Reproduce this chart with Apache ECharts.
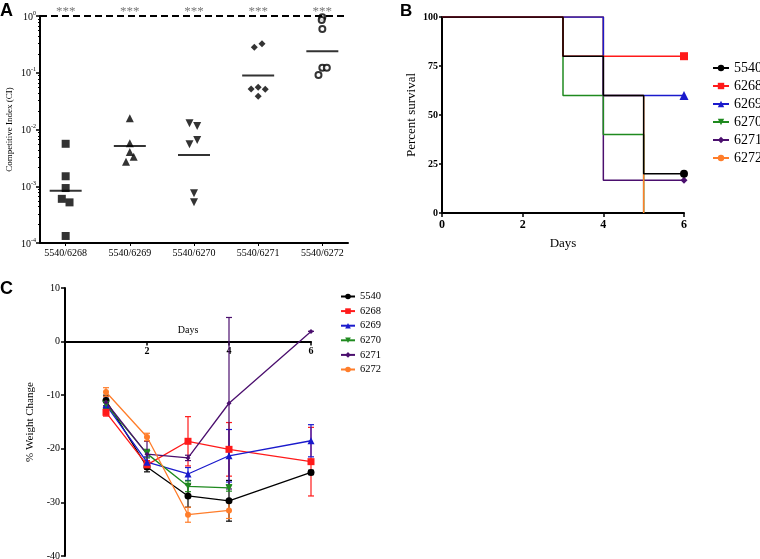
<!DOCTYPE html>
<html><head><meta charset="utf-8">
<script src="https://cdn.jsdelivr.net/npm/echarts@6/dist/echarts.min.js"></script>
<style>html,body{margin:0;padding:0;background:#fff}#c{width:760px;height:559px}</style>
</head><body><div id="c"></div>
<script>
// ---------- Panel A: competitive index (log scale) ----------
const ciCategories = ['5540/6268', '5540/6269', '5540/6270', '5540/6271', '5540/6272'];
const ci6268 = [5.6e-3, 1.5e-3, 9.3e-4, 6.0e-4, 5.2e-4, 1.33e-4];
const ci6269 = [1.58e-2, 5.7e-3, 4.0e-3, 3.3e-3, 2.7e-3];
const ci6270 = [1.29e-2, 1.15e-2, 6.5e-3, 5.5e-3, 7.5e-4, 5.2e-4];
const ci6271 = [0.325, 0.28, 0.0553, 0.0518, 0.051, 0.0385];
const ci6272 = [0.95, 0.85, 0.59, 0.123, 0.123, 0.091];
const jit6268 = [0, 0, 0, -0.06, 0.06, 0];
const jit6269 = [0, 0, 0, 0.06, -0.06];
const jit6270 = [-0.07, 0.05, 0.05, -0.07, 0, 0];
const jit6271 = [0.06, -0.06, 0, -0.11, 0.11, 0];
const jit6272 = [0, -0.01, 0, 0, 0.07, -0.06];
const ciMeans = [8.3e-4, 5.1e-3, 3.55e-3, 0.089, 0.24];
const ciSignif = ['***', '***', '***', '***', '***'];

// ---------- Panel B: survival ----------
const survDays = [0, 1, 2, 3, 4, 5, 6];
const groups = ['5540', '6268', '6269', '6270', '6271', '6272'];
const surv5540 = [100, 100, 100, 80, 60, 20, 20];
const surv6268 = [100, 100, 100, 80, 80, 80, 80];
const surv6269 = [100, 100, 100, 100, 60, 60, 60];
const surv6270 = [100, 100, 100, 60, 40, 0];
const surv6271 = [100, 100, 100, 100, 16.67, 16.67, 16.67];
const surv6272 = [100, 100, 100, 100, 60, 0];

// ---------- Panel C: weight change ----------
const wDays = [1, 2, 3, 4, 6];
const w5540 = [-11.0, -23.4, -28.8, -29.7, -24.4];
const e5540 = [1.0, 0.9, 2.1, 3.8, 0.4];
const w6268 = [-13.2, -23.0, -18.6, -20.1, -22.4];
const e6268 = [0.7, 0.8, 4.6, 5.0, 6.4];
const w6269 = [-11.8, -22.5, -24.7, -21.3, -18.5];
const e6269 = [0.8, 1.0, 1.2, 4.9, 3.0];
const w6270 = [-11.7, -20.9, -27.0, -27.3, null];
const e6270 = [0.8, 0.8, 1.0, 0.6, null];
const w6271 = [-11.3, -21.0, -21.7, -11.5, 1.9];
const e6271 = [1.0, 2.4, 0.5, 16.0, 0];
const w6272 = [-9.4, -17.8, -32.3, -31.5, null];
const e6272 = [0.8, 0.7, 1.4, 1.5, null];

const SERIF = 'Liberation Serif';
const colors = {'5540': '#000000', '6268': '#ff1a1a', '6269': '#1a1acc', '6270': '#1f8a1f', '6271': '#4b0f6e', '6272': '#ff7d2a'};
const symbols = {'5540': 'circle', '6268': 'rect', '6269': 'triangle', '6270': 'triangle', '6271': 'diamond', '6272': 'circle'};
const rotations = {'6270': 180};
const symSizeB = {'5540': 8, '6268': 8, '6269': 9, '6270': 9, '6271': 7, '6272': 7};
const symSizeC = {'5540': 7, '6268': 7, '6269': 7, '6270': 7, '6271': 5, '6272': 6};

const blackLine = {show: true, lineStyle: {color: '#000', width: 2}};

const series = [];

// Panel B step lines first (legend icons are taken from these); array order = draw order
const survMap = {'5540': surv5540, '6268': surv6268, '6269': surv6269, '6270': surv6270, '6271': surv6271, '6272': surv6272};
const bDrawOrder = ['6271', '6270', '6272', '6269', '6268', '5540'];
bDrawOrder.forEach(name => {
  const vals = survMap[name];
  series.push({
    type: 'line', name: name, xAxisIndex: 1, yAxisIndex: 1, step: 'end',
    symbol: symbols[name], symbolSize: symSizeB[name], symbolRotate: rotations[name] || 0,
    showAllSymbol: true,
    lineStyle: {color: colors[name], width: 1.5}, itemStyle: {color: colors[name]},
    data: vals.map((v, i) => (i === 6 && v > 0) ? [survDays[i], v] : {value: [survDays[i], v], symbol: 'none'}),
    animation: false
  });
});

// Panel A scatter
const ciGroups = [ci6268, ci6269, ci6270, ci6271, ci6272];
const ciJit = [jit6268, jit6269, jit6270, jit6271, jit6272];
const aShapes = ['rect', 'triangle', 'triangle', 'diamond', 'emptyCircle'];
const aSizes = [8, 8, 8, 7, 6];
ciGroups.forEach((vals, g) => {
  series.push({
    type: 'scatter', name: 'A' + g, xAxisIndex: 0, yAxisIndex: 0,
    symbol: aShapes[g], symbolSize: aSizes[g], symbolRotate: g === 2 ? 180 : 0,
    itemStyle: g === 4 ? {color: '#000', borderColor: '#000', borderWidth: 1.8} : {color: '#000'},
    data: vals.map((v, i) => [g + 1 + ciJit[g][i], v]),
    silent: true
  });
});
series.push({
  type: 'scatter', name: 'Amean', xAxisIndex: 0, yAxisIndex: 0,
  symbol: 'rect', symbolSize: [32, 2], itemStyle: {color: '#000'},
  data: ciMeans.map((m, g) => [g + 1, m]),
  markLine: {silent: true, symbol: 'none', label: {show: false},
    lineStyle: {color: '#000', width: 2, type: [7, 4]},
    data: [{yAxis: 1}]}
});
series.push({
  type: 'scatter', name: 'Astars', xAxisIndex: 0, yAxisIndex: 0,
  symbolSize: 1, itemStyle: {color: 'rgba(0,0,0,0)'}, clip: false,
  data: ciSignif.map((s, g) => [g + 1, 1]),
  label: {show: true, position: 'top', distance: -3, formatter: p => ciSignif[p.dataIndex],
    fontFamily: SERIF, fontSize: 13, color: '#555'}
});

// Panel C lines + error bars
const wMap = {'5540': [w5540, e5540], '6268': [w6268, e6268], '6269': [w6269, e6269], '6270': [w6270, e6270], '6271': [w6271, e6271], '6272': [w6272, e6272]};
groups.forEach(name => {
  const [m, e] = wMap[name];
  const col = colors[name];
  series.push({
    type: 'custom', name: 'err' + name, xAxisIndex: 2, yAxisIndex: 2,
    data: wDays.map((d, i) => m[i] == null ? null : [d, m[i] - e[i], m[i] + e[i]]).filter(x => x),
    renderItem: (params, api) => {
      const x = api.value(0);
      const p1 = api.coord([x, api.value(1)]);
      const p2 = api.coord([x, api.value(2)]);
      const w = 3;
      const st = {stroke: col, lineWidth: 1.2};
      return {type: 'group', children: [
        {type: 'line', shape: {x1: p1[0], y1: p1[1], x2: p2[0], y2: p2[1]}, style: st},
        {type: 'line', shape: {x1: p1[0] - w, y1: p1[1], x2: p1[0] + w, y2: p1[1]}, style: st},
        {type: 'line', shape: {x1: p2[0] - w, y1: p2[1], x2: p2[0] + w, y2: p2[1]}, style: st}
      ]};
    },
    silent: true, animation: false
  });
});
groups.forEach(name => {
  const [m] = wMap[name];
  series.push({
    type: 'line', name: name, xAxisIndex: 2, yAxisIndex: 2,
    symbol: symbols[name], symbolSize: symSizeC[name], symbolRotate: rotations[name] || 0,
    showAllSymbol: true,
    lineStyle: {color: colors[name], width: 1.3}, itemStyle: {color: colors[name]},
    data: wDays.map((d, i) => [d, m[i]]).filter(p => p[1] != null),
    animation: false
  });
});

const option = {
  animation: false,
  backgroundColor: '#fff',
  textStyle: {fontFamily: SERIF},
  grid: [
    {left: 40, top: 16, width: 308, height: 227, outerBoundsMode: 'none'},
    {left: 442, top: 17, width: 242, height: 196, outerBoundsMode: 'none'},
    {left: 65, top: 288, width: 246, height: 268, outerBoundsMode: 'none'}
  ],
  xAxis: [
    {gridIndex: 0, type: 'value', min: 0.6, max: 5.4, splitLine: {show: false},
      axisLine: blackLine,
      axisTick: {show: true, customValues: [1, 2, 3, 4, 5], length: 3, lineStyle: {color: '#000', width: 1}},
      axisLabel: {customValues: [1, 2, 3, 4, 5], formatter: v => ciCategories[Math.round(v) - 1],
        fontFamily: SERIF, fontSize: 10, color: '#000', margin: 5}},
    {gridIndex: 1, type: 'value', min: 0, max: 6, interval: 2, splitLine: {show: false},
      axisLine: blackLine,
      axisTick: {show: true, length: 4, lineStyle: {color: '#000', width: 1.5}},
      axisLabel: {fontFamily: SERIF, fontSize: 12, fontWeight: 'bold', color: '#000', margin: 6},
      name: 'Days', nameLocation: 'middle', nameGap: 24,
      nameTextStyle: {fontFamily: SERIF, fontSize: 13, color: '#000'}},
    {gridIndex: 2, type: 'value', min: 0, max: 6, splitLine: {show: false},
      axisLine: {show: true, onZero: false, lineStyle: {color: '#000', width: 2}},
      axisTick: {show: true, customValues: [2, 4, 6], length: 4, lineStyle: {color: '#000', width: 1.5}},
      axisLabel: {customValues: [2, 4, 6], fontFamily: SERIF, fontSize: 10, fontWeight: 'bold', color: '#000', margin: 5},
      name: 'Days', nameLocation: 'middle', nameGap: -16, nameMoveOverlap: false,
      nameTextStyle: {fontFamily: SERIF, fontSize: 10, color: '#000'}}
  ],
  yAxis: [
    {gridIndex: 0, type: 'log', logBase: 10, min: 1e-4, max: 1, splitLine: {show: false},
      axisLine: blackLine,
      axisTick: {show: true, length: 4, lineStyle: {color: '#000', width: 1.5}},
      minorTick: {show: true, splitNumber: 8, length: 2, lineStyle: {color: '#000'}},
      axisLabel: {color: '#000', margin: 4,
        formatter: v => {
          const e = Math.round(Math.log10(v));
          return '{b|10}{s|' + (e === 0 ? '0' : '-' + (-e)) + '}';
        },
        rich: {b: {fontFamily: SERIF, fontSize: 10, color: '#000', verticalAlign: 'bottom', lineHeight: 12},
               s: {fontFamily: SERIF, fontSize: 6, color: '#000', verticalAlign: 'top', lineHeight: 12}}},
      name: 'Competitive Index (CI)', nameLocation: 'middle', nameGap: 26, nameRotate: 90, nameMoveOverlap: false,
      nameTextStyle: {fontFamily: SERIF, fontSize: 9, color: '#000'}},
    {gridIndex: 1, type: 'value', min: 0, max: 100, interval: 25, splitLine: {show: false},
      axisLine: blackLine,
      axisTick: {show: true, length: 3, lineStyle: {color: '#000', width: 1.5}},
      axisLabel: {fontFamily: SERIF, fontSize: 10, fontWeight: 'bold', color: '#000', margin: 4},
      name: 'Percent survival', nameLocation: 'middle', nameGap: 24,
      nameTextStyle: {fontFamily: SERIF, fontSize: 13, color: '#000'}},
    {gridIndex: 2, type: 'value', min: -40, max: 10, interval: 10, splitLine: {show: false},
      axisLine: blackLine,
      axisTick: {show: true, length: 4, lineStyle: {color: '#000', width: 1.5}},
      axisLabel: {fontFamily: SERIF, fontSize: 10, color: '#000', margin: 5},
      name: '% Weight Change', nameLocation: 'middle', nameGap: 29,
      nameTextStyle: {fontFamily: SERIF, fontSize: 11, color: '#000'}}
  ],
  legend: [
    {data: groups, orient: 'vertical', left: 712, top: 61, padding: 0, itemWidth: 16, itemHeight: 8, itemGap: 4,
      selectedMode: false, textStyle: {fontFamily: SERIF, fontSize: 14, color: '#000', lineHeight: 14}},
    {data: groups, orient: 'vertical', left: 340, top: 291, padding: 0, itemWidth: 14, itemHeight: 7, itemGap: 3.6,
      selectedMode: false, textStyle: {fontFamily: SERIF, fontSize: 10.5, color: '#000', lineHeight: 10}}
  ],
  graphic: [
    {type: 'text', left: 0, top: 2, style: {text: 'A', font: 'bold 18px "Liberation Sans"', fill: '#000'}},
    {type: 'text', left: 400, top: 3, style: {text: 'B', font: 'bold 17px "Liberation Sans"', fill: '#000'}},
    {type: 'text', left: 0, top: 280, style: {text: 'C', font: 'bold 18px "Liberation Sans"', fill: '#000'}}
  ],
  series: series
};

const chart = echarts.init(document.getElementById('c'), null, {renderer: 'canvas'});
chart.setOption(option);
// place panel C's x axis on the zero line (through the y scale)
const yZero = chart.convertToPixel({yAxisIndex: 2}, 0);
const yBottom = chart.convertToPixel({yAxisIndex: 2}, -40);
chart.setOption({xAxis: [{}, {}, {offset: yZero - yBottom}]});
</script>
</body></html>
